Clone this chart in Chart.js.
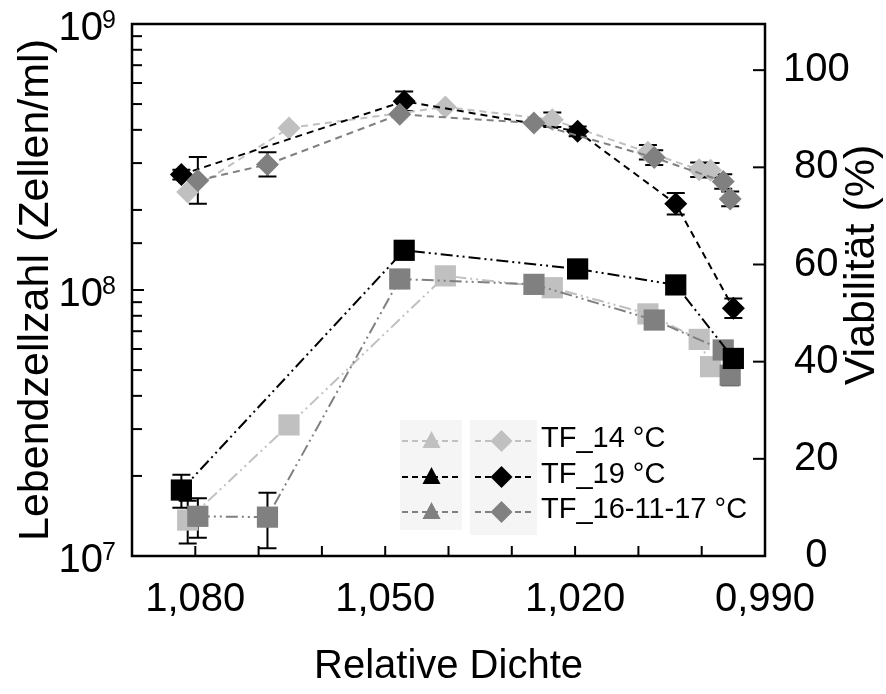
<!DOCTYPE html>
<html>
<head>
<meta charset="utf-8">
<script src="https://cdn.jsdelivr.net/npm/chart.js@4.4.0/dist/chart.umd.min.js"></script>
<style>
  html, body { margin: 0; padding: 0; background: #fff; }
</style>
</head>
<body>
<canvas id="grafico" width="886" height="694"></canvas>
<script>
// Relative Dichte (x) fuer jede Bedingung
const dichte14 = [1.0812, 1.0652, 1.0405, 1.0236, 1.0085, 1.0004, 0.9986];
const dichte19 = [1.0822, 1.0470, 1.0196, 1.0041, 0.9950];
const dichte16 = [1.0796, 1.0686, 1.0477, 1.0265, 1.0075, 0.9966, 0.9955];

// Lebendzellzahl (Zellen/ml), linke Achse
const zellen14 = [1.365e7, 3.11e7, 1.13e8, 1.02e8, 8.13e7, 6.52e7, 5.15e7];
const zellen19 = [1.77e7, 1.41e8, 1.20e8, 1.045e8, 5.53e7];
const zellen16 = [1.41e7, 1.40e7, 1.10e8, 1.05e8, 7.71e7, 5.95e7, 4.78e7];
const zellenErr14 = [0.25e7, 0, 0, 0, 0, 0, 0];
const zellenErr19 = [0.25e7, 0, 0, 0, 0];
const zellenErr16 = [0.24e7, 0.33e7, 0, 0, 0, 0, 0.4e7];

// Viabilitaet (%), rechte Achse
const viab14 = [74.9, 88.1, 92.4, 89.8, 83.1, 79.5, 79.4];
const viab19 = [78.5, 93.6, 87.4, 72.5, 51.0];
const viab16 = [77.3, 80.6, 90.9, 89.1, 82.0, 77.1, 73.5];
const viabErr14 = [0, 0, 0, 1.5, 1.5, 1.5, 1.5];
const viabErr19 = [1, 2, 1, 2.2, 2];
const viabErr16 = [4.8, 2.5, 0, 0, 1.5, 1.5, 1.5];

const legendeTexte = ["TF_14 °C", "TF_19 °C", "TF_16-11-17 °C"];
const xBeschriftet = [990, 1020, 1050, 1080];

const HELL = "#c0c0c0", MITTEL = "#808080", SCHWARZ = "#000000";
const FONT = "'Liberation Sans', Arial, sans-serif";

function punkte(xs, ys) {
  return xs.map((x, i) => ({ x: x, y: ys[i] }));
}

function zellSerie(label, xs, ys, errs, farbe, ordnung) {
  return {
    label: label, yAxisID: "y", data: punkte(xs, ys), erros: errs,
    borderColor: farbe, backgroundColor: farbe, borderWidth: 2,
    borderDash: [12, 4, 2, 4, 2, 4],
    pointStyle: "rect", pointRadius: 15, pointBorderWidth: 0,
    order: ordnung, tension: 0
  };
}

function viabSerie(label, xs, ys, errs, farbe, ordnung) {
  return {
    label: label, yAxisID: "y2", data: punkte(xs, ys), erros: errs,
    borderColor: farbe, backgroundColor: farbe, borderWidth: 2,
    borderDash: [7, 5],
    pointStyle: "rectRot", pointRadius: 11.5, pointBorderWidth: 0,
    order: ordnung, tension: 0
  };
}

function ohnePadding(s) {
  s.paddingTop = 0; s.paddingBottom = 0; s.paddingLeft = 0; s.paddingRight = 0;
}

function zehnerPotenz(v) {
  const e = Math.round(Math.log10(v));
  return Math.abs(v - Math.pow(10, e)) < 1e-6 * v ? e : null;
}

const desenho = {
  id: "desenho",
  beforeDatasetsDraw(chart) {
    const ctx = chart.ctx;
    chart.data.datasets.forEach((ds, i) => {
      const meta = chart.getDatasetMeta(i);
      const escala = chart.scales[ds.yAxisID];
      ctx.save();
      ctx.strokeStyle = "#000";
      ctx.lineWidth = 2;
      ds.data.forEach((p, j) => {
        const e = ds.erros[j];
        if (!e) return;
        const px = meta.data[j].x;
        const yTop = escala.getPixelForValue(p.y + e);
        const yBot = escala.getPixelForValue(p.y - e);
        ctx.beginPath();
        ctx.moveTo(px, yTop); ctx.lineTo(px, yBot);
        ctx.moveTo(px - 9, yTop); ctx.lineTo(px + 9, yTop);
        ctx.moveTo(px - 9, yBot); ctx.lineTo(px + 9, yBot);
        ctx.stroke();
      });
      ctx.restore();
    });
  },
  afterDraw(chart) {
    const ctx = chart.ctx;
    const a = chart.chartArea;
    ctx.save();
    ctx.strokeStyle = "#000";
    ctx.lineWidth = 2.5;
    ctx.setLineDash([]);
    ctx.strokeRect(a.left, a.top, a.right - a.left, a.bottom - a.top);

    // Striche nach innen
    ctx.lineWidth = 2;
    const sx = chart.scales.x;
    sx.ticks.forEach(t => {
      const px = sx.getPixelForValue(t.value);
      ctx.beginPath(); ctx.moveTo(px, a.bottom); ctx.lineTo(px, a.bottom - 10); ctx.stroke();
    });
    const sy = chart.scales.y;
    ctx.fillStyle = "#000";
    sy.ticks.forEach(t => {
      const py = sy.getPixelForValue(t.value);
      const e = zehnerPotenz(t.value);
      ctx.beginPath(); ctx.moveTo(a.left, py); ctx.lineTo(a.left + (e === null ? 10 : 12), py); ctx.stroke();
      if (e === null) return;
      // 10 mit hochgestelltem Exponenten
      ctx.textBaseline = "alphabetic";
      ctx.textAlign = "right";
      ctx.font = "40px " + FONT;
      ctx.fillText("10", 103, py + 16);
      ctx.textAlign = "left";
      ctx.font = "25px " + FONT;
      ctx.fillText(String(e), 102, py + 4);
    });
    const sy2 = chart.scales.y2;
    sy2.ticks.forEach(t => {
      const py = sy2.getPixelForValue(t.value);
      ctx.beginPath(); ctx.moveTo(a.right, py); ctx.lineTo(a.right - 12, py); ctx.stroke();
    });

    // rechter Achsentitel, von unten nach oben
    ctx.font = "43px " + FONT;
    ctx.textAlign = "center";
    ctx.textBaseline = "middle";
    ctx.translate(862, 265);
    ctx.rotate(-Math.PI / 2);
    ctx.fillText("Viabilität (%)", 0, 0);
    ctx.restore();

    // Legende mit zwei Symbolen je Zeile
    ctx.save();
    ctx.fillStyle = "#f5f5f5";
    ctx.fillRect(400, 420, 62, 110);
    ctx.fillRect(470, 420, 67, 115);
    const farben = [HELL, SCHWARZ, MITTEL];
    const zeilen = [441, 477, 512];
    zeilen.forEach((y, i) => {
      ctx.strokeStyle = farben[i];
      ctx.fillStyle = farben[i];
      ctx.lineWidth = 2;
      ctx.setLineDash([6, 4]);
      ctx.beginPath(); ctx.moveTo(402, y); ctx.lineTo(461, y); ctx.stroke();
      ctx.beginPath(); ctx.moveTo(475, y); ctx.lineTo(532, y); ctx.stroke();
      ctx.setLineDash([]);
      ctx.beginPath();
      ctx.moveTo(431.5, y - 10); ctx.lineTo(440.5, y + 7); ctx.lineTo(422.5, y + 7);
      ctx.closePath(); ctx.fill();
      ctx.beginPath();
      ctx.moveTo(501.5, y - 11); ctx.lineTo(512.5, y); ctx.lineTo(501.5, y + 11); ctx.lineTo(490.5, y);
      ctx.closePath(); ctx.fill();
      ctx.fillStyle = "#000";
      ctx.font = "29px " + FONT;
      ctx.textAlign = "left";
      ctx.textBaseline = "alphabetic";
      ctx.fillText(legendeTexte[i], 541, y + 6);
    });
    ctx.restore();
  }
};

const ctx = document.getElementById("grafico").getContext("2d");
new Chart(ctx, {
  type: "line",
  data: {
    datasets: [
      zellSerie("TF_19 °C", dichte19, zellen19, zellenErr19, SCHWARZ, 0),
      zellSerie("TF_16-11-17 °C", dichte16, zellen16, zellenErr16, MITTEL, 1),
      zellSerie("TF_14 °C", dichte14, zellen14, zellenErr14, HELL, 2),
      viabSerie("TF_16-11-17 °C", dichte16, viab16, viabErr16, MITTEL, 3),
      viabSerie("TF_19 °C", dichte19, viab19, viabErr19, SCHWARZ, 4),
      viabSerie("TF_14 °C", dichte14, viab14, viabErr14, HELL, 5)
    ]
  },
  options: {
    responsive: false,
    animation: false,
    devicePixelRatio: 1,
    layout: { padding: { top: 24, left: 0, right: 0, bottom: 0 } },
    plugins: { legend: { display: false }, tooltip: { enabled: false } },
    scales: {
      x: {
        type: "linear", position: "bottom", reverse: true,
        min: 0.99, max: 1.09,
        grid: { display: false }, border: { display: false },
        ticks: {
          stepSize: 0.01, autoSkip: false, maxRotation: 0, padding: 12,
          color: "#000", font: { family: FONT, size: 40 },
          callback: v => {
            const m = Math.round(v * 1000);
            return xBeschriftet.includes(m) ? v.toFixed(3).replace(".", ",") : "";
          }
        },
        title: {
          display: true, text: "Relative Dichte", color: "#000",
          font: { family: FONT, size: 40 }, padding: { top: 0, bottom: 3 }
        },
        afterFit: s => { s.height = 138; ohnePadding(s); }
      },
      y: {
        type: "logarithmic", position: "left", min: 1e7, max: 1e9,
        grid: { display: false }, border: { display: false },
        ticks: { autoSkip: false, callback: () => "" },
        title: {
          display: true, text: "Lebendzellzahl (Zellen/ml)", color: "#000",
          font: { family: FONT, size: 43 }, padding: { top: 10, bottom: 0 }
        },
        afterFit: s => { s.width = 132; ohnePadding(s); }
      },
      y2: {
        type: "linear", position: "right", min: 0, max: 109.5,
        grid: { display: false }, border: { display: false },
        ticks: {
          stepSize: 20, includeBounds: false, padding: 10, crossAlign: "center",
          color: "#000", font: { family: FONT, size: 40 }
        },
        afterFit: s => { s.width = 121; ohnePadding(s); }
      }
    }
  },
  plugins: [desenho]
});
</script>
</body>
</html>
